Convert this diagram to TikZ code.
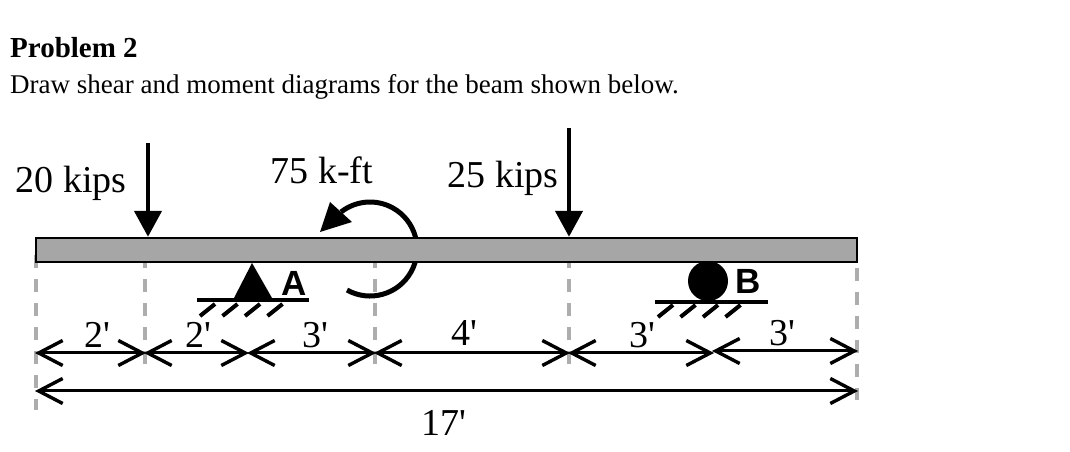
\documentclass[tikz,border=0pt]{standalone}
\usepackage{fontspec}
\setmainfont[Ligatures=TeXOff]{Liberation Serif}
\usetikzlibrary{arrows.meta}
\tikzset{
  dimline/.style={line width=3pt,shorten <=-1pt,shorten >=-1pt,{Straight Barb[length=24pt,width=25pt,line width=3.4pt]}-{Straight Barb[length=24pt,width=25pt,line width=3.4pt]}},
  dashline/.style={draw=black!32,line width=3.2pt,dash pattern=on 13pt off 11pt},
  loadarrow/.style={line width=4.5pt,-{Triangle[length=26pt,width=27pt]}},
  hatch/.style={line width=4pt},
  baselabel/.style={font=\fontsize{38}{40}\selectfont,inner sep=0pt},
  supportlabel/.style={font=\fontsize{35}{38}\selectfont\sffamily\bfseries,inner sep=0pt}
}
\setsansfont{Liberation Sans}
\begin{document}
\begin{tikzpicture}[x=1pt,y=1pt]
  \useasboundingbox (0,0) rectangle (1070,452);
  \node[anchor=base west,inner sep=0pt,font=\fontsize{29}{32}\selectfont\bfseries] (title) at (10,394) {Problem 2};
  \node[anchor=base west,inner sep=0pt,font=\fontsize{27}{32}\selectfont] (task) at (10,358) {Draw shear and moment diagrams for the beam shown below.};
  % moment, partly behind the beam
  \draw[line width=5pt] (347,162) arc[start angle=240.7,end angle=488,radius=47];
  \fill (320,220) -- (330,250) -- (352,230) -- cycle;
  % dashed guides
  \coordinate (g0) at (36,197);
  \coordinate (g0e) at (36,42);
  \coordinate (g1) at (145,197);
  \coordinate (g1e) at (145,84);
  \coordinate (g2) at (375,197);
  \coordinate (g2e) at (375,84);
  \coordinate (g3) at (569,197);
  \coordinate (g3e) at (569,84);
  \coordinate (g4) at (857,184);
  \coordinate (g4e) at (857,52);
  \draw[dashline] (g0) -- (g0e);
  \draw[dashline] (g1) -- (g1e);
  \draw[dashline] (g2) -- (g2e);
  \draw[dashline] (g3) -- (g3e);
  \draw[dashline] (g4) -- (g4e);
  % beam
  \node[draw,line width=2.4pt,fill=black!35,minimum width=821pt,minimum height=24pt,inner sep=0pt] (beam) at (446.5,202) {};
  % loads
  \coordinate (p1) at (148,309);
  \coordinate (p2) at (569,324);
  \draw[loadarrow] (p1) -- (p1 |- beam.north);
  \draw[loadarrow] (p2) -- (p2 |- beam.north);
  \node[baselabel] (p1text) at (71,269) {20 kips};
  \node[baselabel] (mtext) at (322,282) {75 k-ft};
  \node[baselabel] (p2text) at (503,274) {25 kips};
  % support A
  \fill (252,189) -- (272,154) -- (234,154) -- cycle;
  \draw[line width=4pt] (197,151.5) -- (309,151.5);
  \draw[hatch] (200,136) -- (215,148);
  \draw[hatch] (222.5,136) -- (237.5,148);
  \draw[hatch] (245,136) -- (260,148);
  \draw[hatch] (267.5,136) -- (282.5,148);
  \node[supportlabel] (suppA) at (294,169) {A};
  % support B
  \fill (708,171) circle (20);
  \draw[line width=4pt] (655,149.5) -- (768,149.5);
  \draw[hatch] (658,135) -- (673,147);
  \draw[hatch] (680.5,135) -- (695.5,147);
  \draw[hatch] (703,135) -- (718,147);
  \draw[hatch] (725.5,135) -- (740.5,147);
  \node[supportlabel] (suppB) at (748,171) {B};
  % dimensions
  \coordinate (d0) at (36,99);
  \coordinate (d1) at (145,99);
  \coordinate (d2) at (248,99);
  \coordinate (d3) at (375,99);
  \coordinate (d4) at (569,99);
  \coordinate (d5) at (713,99);
  \coordinate (d5b) at (713,101);
  \coordinate (d6) at (857,101);
  \coordinate (t0) at (36,61);
  \coordinate (t1) at (857,61);
  \draw[dimline] (d0) -- (d1);
  \draw[dimline] (d1) -- (d2);
  \draw[dimline] (d2) -- (d3);
  \draw[dimline] (d3) -- (d4);
  \draw[dimline] (d4) -- (d5);
  \draw[dimline] (d5b) -- (d6);
  \draw[dimline] (t0) -- (t1);
  \node[baselabel] (l1) at (97,117) {2'};
  \node[baselabel] (l2) at (198,117) {2'};
  \node[baselabel] (l3) at (315,117) {3'};
  \node[baselabel] (l4) at (464,119) {4'};
  \node[baselabel] (l5) at (642,117) {3'};
  \node[baselabel] (l6) at (782,119) {3'};
  \node[baselabel] (l7) at (444,29) {17'};
\end{tikzpicture}
\end{document}
